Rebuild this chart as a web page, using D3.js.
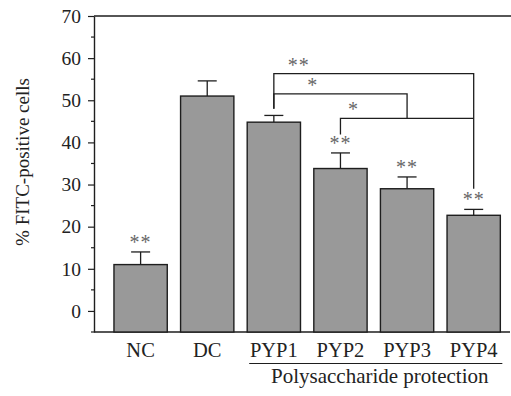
<!DOCTYPE html>
<html>
<head>
<meta charset="utf-8">
<script src="https://cdn.jsdelivr.net/npm/d3@7"></script>
<style>
  body { margin: 0; background: #fff; }
  svg { display: block; }
  text { font-family: "Liberation Serif", "DejaVu Serif", serif; fill: #222; }
</style>
</head>
<body>
<div id="viz"></div>
<script>
var w = 511, h = 396;

// data
var groups = ["NC", "DC", "PYP1", "PYP2", "PYP3", "PYP4"];
var means = [11.0, 51.0, 44.8, 33.8, 29.0, 22.7];
var errors = [3.0, 3.6, 1.6, 3.7, 2.8, 1.4];
var marks = ["**", "", "", "**", "**", "**"];
var yTicks = [0, 10, 20, 30, 40, 50, 60, 70];

// comparison brackets: from group, to group, bracket level, end of left leg, end of right leg
var brFrom = ["PYP1", "PYP1", "PYP2"];
var brTo = ["PYP4", "PYP3", "PYP4"];
var brLevel = [56.3, 51.5, 45.7];
var brFromEnd = [48.0, 48.0, 41.9];
var brToEnd = [29.0, 45.7, 45.7];
var brLabel = ["**", "*", "*"];

var groupLabel = "Polysaccharide protection";
var yLabel = "% FITC-positive cells";

var color = {
    bar: "#999999",
    line: "#1e1e1e",
    star: "#666666"
};

var svg = d3.select("#viz")
    .append("svg")
    .attr("width", w)
    .attr("height", h);

var y = d3.scaleLinear().domain([-5, 70]).range([332, 16]);
var x = d3.scaleBand().domain(groups).range([107.3, 507]).paddingInner(0.2).paddingOuter(0.1);

var rows = groups.map(function(g, i) {
    return { name: g, mean: means[i], err: errors[i], mark: marks[i] };
});

// top frame line
svg.append("line")
    .attr("x1", 94).attr("x2", w)
    .attr("y1", y(70)).attr("y2", y(70))
    .attr("stroke", color.line).attr("stroke-width", 1.4);

// bottom line
svg.append("line")
    .attr("x1", 94).attr("x2", 510)
    .attr("y1", y(-5)).attr("y2", y(-5))
    .attr("stroke", color.line).attr("stroke-width", 1.4);

// y axis with minor ticks
var yAxis = svg.append("g")
    .attr("transform", "translate(94,0)")
    .call(d3.axisLeft(y).tickValues(yTicks).tickSize(6).tickPadding(7).tickSizeOuter(0));
yAxis.select(".domain").attr("stroke", color.line).attr("stroke-width", 1.4);
yAxis.selectAll(".tick line").attr("stroke", color.line).attr("stroke-width", 1.2);
yAxis.selectAll(".tick text")
    .attr("font-family", "Liberation Serif")
    .attr("font-size", 19.5)
    .attr("fill", "#222");

svg.append("g")
    .selectAll("line")
    .data(d3.range(-5, 70, 10))
    .enter()
    .append("line")
    .attr("x1", 91).attr("x2", 94)
    .attr("y1", function(d) { return y(d); })
    .attr("y2", function(d) { return y(d); })
    .attr("stroke", color.line).attr("stroke-width", 1.2);

// error bars (drawn first so the bar covers the stem)
var eb = svg.append("g").attr("class", "errs");
eb.selectAll(".stem")
    .data(rows).enter().append("line")
    .attr("x1", function(d) { return x(d.name) + x.bandwidth() / 2; })
    .attr("x2", function(d) { return x(d.name) + x.bandwidth() / 2; })
    .attr("y1", function(d) { return y(d.mean); })
    .attr("y2", function(d) { return y(d.mean + d.err); })
    .attr("stroke", color.line).attr("stroke-width", 1.3);
eb.selectAll(".cap")
    .data(rows).enter().append("line")
    .attr("x1", function(d) { return x(d.name) + x.bandwidth() / 2 - 9.5; })
    .attr("x2", function(d) { return x(d.name) + x.bandwidth() / 2 + 9.5; })
    .attr("y1", function(d) { return y(d.mean + d.err); })
    .attr("y2", function(d) { return y(d.mean + d.err); })
    .attr("stroke", color.line).attr("stroke-width", 1.3);

// bars
svg.append("g")
    .selectAll("rect")
    .data(rows)
    .enter()
    .append("rect")
    .attr("x", function(d) { return x(d.name); })
    .attr("width", x.bandwidth())
    .attr("y", function(d) { return y(d.mean); })
    .attr("height", function(d) { return y(-5) - y(d.mean); })
    .attr("fill", color.bar)
    .attr("stroke", color.line)
    .attr("stroke-width", 1.4);

// significance stars over bars
svg.append("g")
    .selectAll("text")
    .data(rows.filter(function(d) { return d.mark; }))
    .enter()
    .append("text")
    .attr("x", function(d) { return x(d.name) + x.bandwidth() / 2; })
    .attr("y", function(d) { return y(d.mean + d.err) - 3; })
    .attr("text-anchor", "middle")
    .attr("font-size", 20)
    .attr("letter-spacing", 1)
    .style("fill", color.star)
    .text(function(d) { return d.mark; });

// comparison brackets
var labelShift = [25, 39, 13];
var cx = function(g) { return x(g) + x.bandwidth() / 2; };
brFrom.forEach(function(f, i) {
    var x1 = cx(f), x2 = cx(brTo[i]);
    var pts = [[x1, y(brFromEnd[i])], [x1, y(brLevel[i])], [x2, y(brLevel[i])], [x2, y(brToEnd[i])]];
    svg.append("path")
        .attr("d", d3.line()(pts))
        .attr("fill", "none")
        .attr("stroke", color.line)
        .attr("stroke-width", 1.3);
    svg.append("text")
        .attr("x", x1 + labelShift[i])
        .attr("y", y(brLevel[i]) - 2)
        .attr("text-anchor", "middle")
        .attr("font-size", 20)
        .attr("letter-spacing", 1)
        .style("fill", color.star)
        .text(brLabel[i]);
});

// x labels
svg.append("g")
    .selectAll("text")
    .data(groups)
    .enter()
    .append("text")
    .attr("x", function(d) { return x(d) + x.bandwidth() / 2; })
    .attr("y", 357)
    .attr("text-anchor", "middle")
    .attr("font-size", 20.5)
    .text(function(d) { return d; });

// group underline + label
svg.append("line")
    .attr("x1", x("PYP1") + 2).attr("x2", x("PYP4") + x.bandwidth() + 2)
    .attr("y1", 363.5).attr("y2", 363.5)
    .attr("stroke", color.line).attr("stroke-width", 1.2);

svg.append("text")
    .attr("x", (x("PYP1") + x("PYP4") + x.bandwidth()) / 2 + 6)
    .attr("y", 383)
    .attr("text-anchor", "middle")
    .attr("font-size", 21)
    .text(groupLabel);

// y label
svg.append("text")
    .attr("transform", "translate(29,162) rotate(-90)")
    .attr("text-anchor", "middle")
    .attr("font-size", 19)
    .text(yLabel);
</script>
</body>
</html>
